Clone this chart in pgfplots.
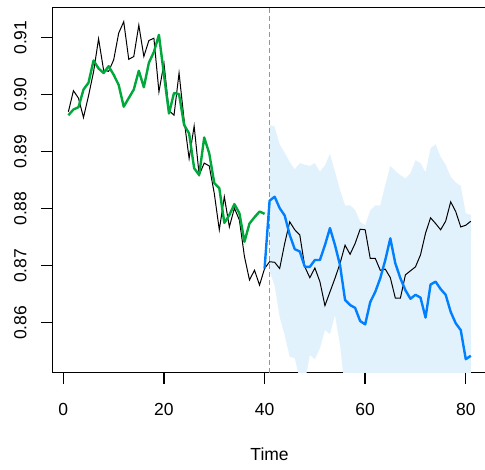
\documentclass[border=0pt]{standalone}
\usepackage{fontspec}
\setmainfont{Liberation Sans}
\usepackage{pgfplots}
\pgfplotsset{compat=1.18}
\definecolor{fitgreen}{RGB}{0,168,60}
\definecolor{fcblue}{RGB}{0,128,255}
\definecolor{bandblue}{RGB}{226,242,253}
\definecolor{dashgray}{RGB}{150,150,150}
\begin{document}
\begin{tikzpicture}
\begin{axis}[
  scale only axis, width=434.6bp, height=365.4bp,
  xmin=-2.2, xmax=84.2, ymin=0.85123, ymax=0.91533,
  axis line style={line width=1.1bp},
  every tick/.style={line width=1.4bp, black},
  tick align=outside, major tick length=11.5bp,
  xtick={0,20,40,60,80}, ytick={0.86,0.87,0.88,0.89,0.90,0.91},
  tick pos=left,
  /pgf/number format/assume math mode=true,
  ticklabel style={font=\fontsize{17.5bp}{21bp}\selectfont},
  xticklabel style={anchor=north, inner sep=0pt, yshift=-18.5bp},
  yticklabel style={/pgf/number format/.cd, fixed, fixed zerofill, precision=2, /tikz/.cd, xshift=-14.1bp, rotate=90, anchor=south, inner sep=0pt},
  xlabel={Time},
  xlabel style={at={(rel axis cs:0.5,0)}, anchor=center, yshift=-81.6bp, font=\fontsize{17.5bp}{21bp}\selectfont},
  extra description/.code={
    \draw[line width=1.4bp, black] (axis cs:-2.2,0.86) -- ++(-11.5bp,0pt);
    \draw[line width=1.4bp, black] (axis cs:-2.2,0.87) -- ++(-11.5bp,0pt);
    \draw[line width=1.4bp, black] (axis cs:-2.2,0.88) -- ++(-11.5bp,0pt);
    \draw[line width=1.4bp, black] (axis cs:-2.2,0.89) -- ++(-11.5bp,0pt);
    \draw[line width=1.4bp, black] (axis cs:-2.2,0.90) -- ++(-11.5bp,0pt);
    \draw[line width=1.4bp, black] (axis cs:-2.2,0.91) -- ++(-11.5bp,0pt);
    \draw[line width=1.4bp, black] (axis cs:0,0.85123) -- ++(0pt,-11.5bp);
    \draw[line width=1.4bp, black] (axis cs:20,0.85123) -- ++(0pt,-11.5bp);
    \draw[line width=1.4bp, black] (axis cs:40,0.85123) -- ++(0pt,-11.5bp);
    \draw[line width=1.4bp, black] (axis cs:60,0.85123) -- ++(0pt,-11.5bp);
    \draw[line width=1.4bp, black] (axis cs:80,0.85123) -- ++(0pt,-11.5bp);
  },
]
% prediction band
\addplot[draw=none, fill=bandblue] coordinates {
(41,0.8947) (42,0.8944) (43,0.8913) (44,0.8898) (45,0.8882) (46,0.8869) (47,0.8880) (48,0.8877) (49,0.8875) (50,0.8880)
(51,0.8865) (52,0.8876) (53,0.8896) (54,0.8865) (55,0.8833) (56,0.8806) (57,0.8806) (58,0.8798) (59,0.8777) (60,0.8771)
(61,0.8797) (62,0.8806) (63,0.8806) (64,0.8842) (65,0.8875) (66,0.8866) (67,0.8859) (68,0.8853) (69,0.8862) (70,0.8885)
(71,0.8880) (72,0.8864) (73,0.8906) (74,0.8913) (75,0.8891) (76,0.8877) (77,0.8856) (78,0.8846) (79,0.8840) (80,0.8792) (81,0.8789)
(81,0.8480) (80,0.8480) (79,0.8480) (78,0.8480) (77,0.8480) (76,0.8480) (75,0.8480) (74,0.8480) (73,0.8480) (72,0.8480)
(71,0.8480) (70,0.8480) (69,0.8480) (68,0.8480) (67,0.8480) (66,0.8480) (65,0.8480) (64,0.8480) (63,0.8480) (62,0.8480)
(61,0.8480) (60,0.8480) (59,0.8480) (58,0.8480) (57,0.8480) (56,0.8480) (55,0.8561) (54,0.8613) (53,0.8580) (52,0.8587)
(51,0.8555) (50,0.8536) (49,0.8543) (48,0.8495) (47,0.8500) (46,0.8538) (45,0.8540) (44,0.8578) (43,0.8610) (42,0.8665) (41,0.8690)
} -- cycle;
% forecast start
\addplot[dashgray, line width=1.6bp, dash pattern=on 5bp off 3bp] coordinates {(41,0.84) (41,0.92)};
% observed series
\addplot[black, line width=1bp] coordinates {
(1,0.8970) (2,0.9007) (3,0.8994) (4,0.8960) (5,0.8998) (6,0.9040) (7,0.9098) (8,0.9043) (9,0.9041) (10,0.9061)
(11,0.9108) (12,0.9128) (13,0.9062) (14,0.9067) (15,0.9122) (16,0.9067) (17,0.9095) (18,0.9099) (19,0.9005) (20,0.9055)
(21,0.8972) (22,0.8964) (23,0.9038) (24,0.8956) (25,0.8888) (26,0.8945) (27,0.8859) (28,0.8880) (29,0.8875) (30,0.8827)
(31,0.8763) (32,0.8821) (33,0.8768) (34,0.8801) (35,0.8780) (36,0.8716) (37,0.8675) (38,0.8692) (39,0.8666) (40,0.8695)
(41,0.8707) (42,0.8706) (43,0.8695) (44,0.8739) (45,0.8777) (46,0.8763) (47,0.8754) (48,0.8698) (49,0.8679) (50,0.8696)
(51,0.8672) (52,0.8630) (53,0.8654) (54,0.8678) (55,0.8704) (56,0.8736) (57,0.8720) (58,0.8739) (59,0.8764) (60,0.8763)
(61,0.8713) (62,0.8713) (63,0.8692) (64,0.8694) (65,0.8679) (66,0.8643) (67,0.8643) (68,0.8684) (69,0.8691) (70,0.8698)
(71,0.8719) (72,0.8757) (73,0.8784) (74,0.8774) (75,0.8763) (76,0.8778) (77,0.8812) (78,0.8795) (79,0.8768) (80,0.8771) (81,0.8778)
};
% fitted values
\addplot[fitgreen, line width=2.4bp, line join=round] coordinates {
(1,0.8964) (2,0.8974) (3,0.8978) (4,0.9009) (5,0.9021) (6,0.9060) (7,0.9046) (8,0.9038) (9,0.9050) (10,0.9035)
(11,0.9017) (12,0.8979) (13,0.8994) (14,0.9009) (15,0.9042) (16,0.9013) (17,0.9056) (18,0.9075) (19,0.9105) (20,0.9035)
(21,0.8967) (22,0.9003) (23,0.9001) (24,0.8947) (25,0.8932) (26,0.8871) (27,0.8859) (28,0.8925) (29,0.8897) (30,0.8845)
(31,0.8836) (32,0.8775) (33,0.8789) (34,0.8808) (35,0.8792) (36,0.8742) (37,0.8774) (38,0.8785) (39,0.8795) (40,0.8791)
};
% forecast
\addplot[fcblue, line width=2.4bp, line join=round] coordinates {
(40,0.8695) (41,0.8814) (42,0.8821) (43,0.8801) (44,0.8788) (45,0.8754) (46,0.8729) (47,0.8725) (48,0.8698) (49,0.8698) (50,0.8710)
(51,0.8710) (52,0.8736) (53,0.8766) (54,0.8736) (55,0.8701) (56,0.8640) (57,0.8631) (58,0.8626) (59,0.8603) (60,0.8597)
(61,0.8636) (62,0.8654) (63,0.8678) (64,0.8710) (65,0.8748) (66,0.8704) (67,0.8678) (68,0.8657) (69,0.8642) (70,0.8649)
(71,0.8644) (72,0.8609) (73,0.8667) (74,0.8672) (75,0.8659) (76,0.8649) (77,0.8619) (78,0.8599) (79,0.8587) (80,0.8536) (81,0.8542)
};
\end{axis}
\pgfresetboundingbox
\path[use as bounding box] ([shift={(-52.3bp,-97.3bp)}]current axis.south west) rectangle ([shift={(432.7bp,372.7bp)}]current axis.south west);
\end{tikzpicture}
\end{document}
